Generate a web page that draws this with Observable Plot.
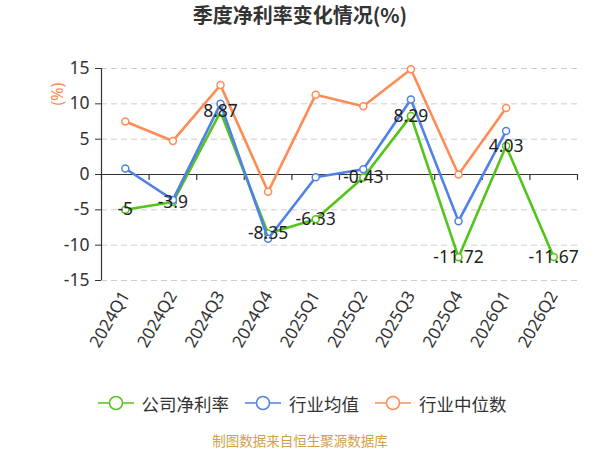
<!DOCTYPE html>
<html>
<head>
<meta charset="utf-8">
<script src="https://cdn.jsdelivr.net/npm/d3@7"></script>
<script src="https://cdn.jsdelivr.net/npm/@observablehq/plot@0.6"></script>
<style>
  html, body { margin: 0; padding: 0; background: #fff; overflow: hidden; }
  body { width: 600px; font-family: "Noto Sans", "Noto Sans CJK SC", sans-serif; color: #333; }
  #title { height: 30px; line-height: 30px; text-align: center; font-size: 20px; font-weight: bold; color: #333; font-family: "Noto Sans CJK SC", sans-serif; }
  #legend { height: 36px; display: flex; justify-content: center; align-items: center; gap: 16px; font-size: 17.5px; color: #333; font-family: "Noto Sans CJK SC", sans-serif; padding-left: 4px; }
  .item { display: flex; align-items: center; gap: 8px; }
  #footer { height: 28px; margin-top: 5px; line-height: 28px; text-align: center; font-size: 13.5px; color: #d4a047; font-family: "Noto Sans CJK SC", sans-serif; }
</style>
</head>
<body>
<div id="title">季度净利率变化情况(%)</div>
<div id="chart"></div>
<div id="legend"></div>
<div id="footer">制图数据来自恒生聚源数据库</div>
<script>
const categories = ["2024Q1","2024Q2","2024Q3","2024Q4","2025Q1","2025Q2","2025Q3","2025Q4","2026Q1","2026Q2"];
const companyNetMargin = [-5, -3.9, 8.87, -8.35, -6.33, -0.43, 8.29, -11.72, 4.03, -11.67];
const industryMean = [0.85, -3.6, 10.0, -9.1, -0.4, 0.75, 10.6, -6.6, 6.15, null];
const industryMedian = [7.5, 4.75, 12.65, -2.45, 11.3, 9.65, 14.9, 0.0, 9.4, null];
const yTicks = [-15, -10, -5, 0, 5, 10, 15];
const seriesNames = ["公司净利率", "行业均值", "行业中位数"];
const seriesColors = ["#52c41a", "#4f81e6", "#ff8c55"];

function rows(values) {
  return values.map((v, i) => ({i: i + 0.5, v})).filter(d => d.v != null);
}
const comp = rows(companyNetMargin);
const mean = rows(industryMean);
const med = rows(industryMedian);
const boundaries = d3.range(categories.length + 1);
const centers = d3.range(categories.length).map(i => i + 0.5);
const tickShape = { draw(ctx, l) { ctx.moveTo(0, 0); ctx.lineTo(0, -l); } };

const plot = Plot.plot({
  width: 600,
  height: 355,
  marginTop: 38,
  marginBottom: 105,
  marginLeft: 101,
  marginRight: 23,
  style: { fontFamily: '"Noto Sans", "Noto Sans CJK SC", sans-serif', color: "#333", background: "#fff" },
  x: { type: "linear", domain: [0, categories.length] },
  y: { domain: [-15, 15] },
  marks: [
    Plot.ruleY(yTicks.filter(t => t !== 0), { stroke: "#cccccc", strokeWidth: 1, strokeDasharray: "6,4" }),
    Plot.ruleY([0], { stroke: "#333", strokeWidth: 1.2 }),
    Plot.vector(boundaries, { x: d => d, y: 0, length: 5, rotate: 180, anchor: "start", shape: tickShape, stroke: "#333", strokeWidth: 1.2 }),
    Plot.axisY({ ticks: yTicks, tickSize: 6, tickPadding: 6, fontSize: 17.5, label: null, color: "#333", tickFormat: d => String(d) }),
    Plot.ruleX([0], { stroke: "#333", strokeWidth: 1.2 }),
    Plot.axisX({ ticks: centers, tickSize: 0, tickPadding: 12, tickRotate: -60, fontSize: 17, label: null, tickFormat: d => categories[Math.floor(d)], color: "#333" }),
    Plot.text(["(%)"], { frameAnchor: "top-left", dx: -50, dy: 37, rotate: -90, fill: seriesColors[2], fontSize: 16 }),
    Plot.line(comp, { x: "i", y: "v", stroke: seriesColors[0], strokeWidth: 2.6 }),
    Plot.dot(comp, { x: "i", y: "v", r: 3.5, fill: "white", stroke: seriesColors[0], strokeWidth: 1.5 }),
    Plot.line(mean, { x: "i", y: "v", stroke: seriesColors[1], strokeWidth: 2.6 }),
    Plot.dot(mean, { x: "i", y: "v", r: 3.5, fill: "white", stroke: seriesColors[1], strokeWidth: 1.5 }),
    Plot.line(med, { x: "i", y: "v", stroke: seriesColors[2], strokeWidth: 2.6 }),
    Plot.dot(med, { x: "i", y: "v", r: 3.5, fill: "white", stroke: seriesColors[2], strokeWidth: 1.5 }),
    Plot.text(comp, { x: "i", y: "v", text: d => String(d.v), fontSize: 17.5, fill: "#222" })
  ]
});
document.getElementById("chart").appendChild(plot);

const legend = document.getElementById("legend");
seriesNames.forEach((name, k) => {
  const item = document.createElement("div");
  item.className = "item";
  item.innerHTML = `<svg width="36" height="16"><line x1="0" x2="36" y1="8" y2="8" stroke="${seriesColors[k]}" stroke-width="1.5"/><circle cx="18" cy="8" r="6.5" fill="white" stroke="${seriesColors[k]}" stroke-width="1.5"/></svg><span>${name}</span>`;
  legend.appendChild(item);
});
</script>
</body>
</html>
